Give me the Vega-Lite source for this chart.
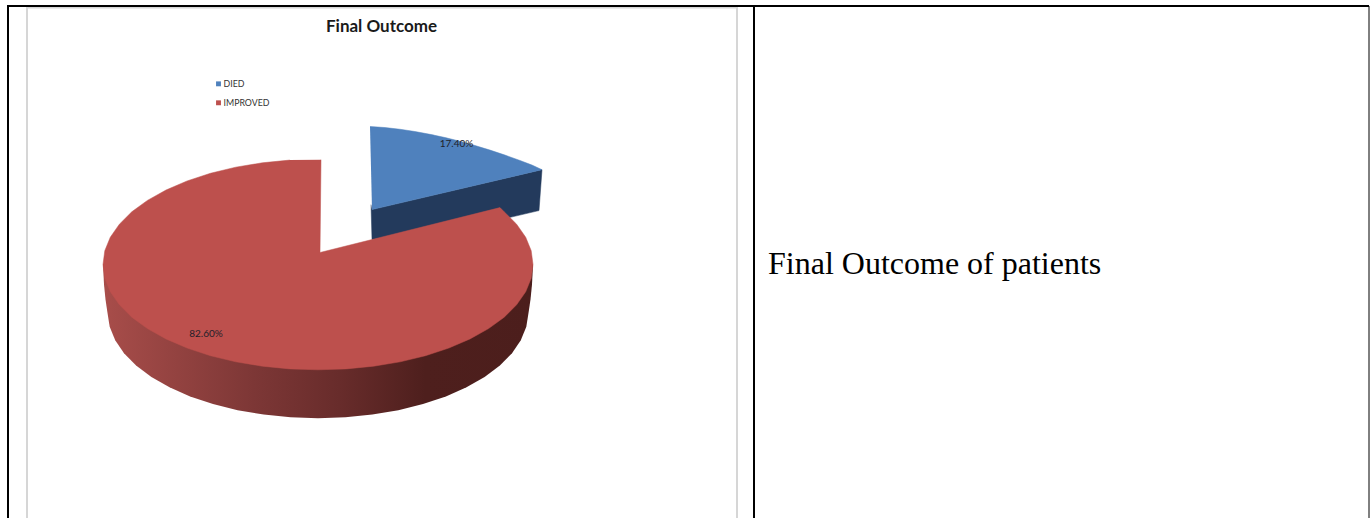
{
  "$schema": "https://vega.github.io/schema/vega-lite/v6.json",
  "autosize": {"type": "fit", "contains": "padding"},
  "width": 1370,
  "height": 519,
  "padding": 0,
  "background": "white",
  "view": {"stroke": null},
  "datasets": {
    "redWall": [
      {"o":1,"x":533,"y":265},{"o":2,"x":532,"y":285},{"o":3,"x":530.5,"y":300},{"o":4,"x":528.5,"y":313.5},{"o":5,"x":526.3,"y":327.3},{"o":6,"x":520.8,"y":340.8},{"o":7,"x":512,"y":353.9},{"o":8,"x":499.9,"y":366.3},{"o":9,"x":484.6,"y":377.7},{"o":10,"x":466.5,"y":388.1},{"o":11,"x":445.9,"y":397.2},{"o":12,"x":423,"y":404.9},{"o":13,"x":398.4,"y":411},{"o":14,"x":372.3,"y":415.4},{"o":15,"x":345.5,"y":418.1},{"o":16,"x":318,"y":419},{"o":17,"x":290.5,"y":418.1},{"o":18,"x":263.7,"y":415.4},{"o":19,"x":237.6,"y":411},{"o":20,"x":213,"y":404.9},{"o":21,"x":190.1,"y":397.2},{"o":22,"x":169.5,"y":388.1},{"o":23,"x":151.4,"y":377.7},{"o":24,"x":136.1,"y":366.3},{"o":25,"x":124,"y":353.9},{"o":26,"x":115.2,"y":340.8},{"o":27,"x":109.7,"y":327.3},{"o":28,"x":107.5,"y":313.5},{"o":29,"x":105.5,"y":300},{"o":30,"x":104,"y":285},{"o":31,"x":103,"y":265}
    ],
    "redTop": [
      {"o":1,"x":321,"y":160},{"o":2,"x":320,"y":253},{"o":3,"x":500,"y":208},{"o":4,"x":504.2,"y":212.2},{"o":5,"x":516.6,"y":224.6},{"o":6,"x":525.7,"y":237.7},{"o":7,"x":531.2,"y":251.2},{"o":8,"x":533,"y":265},{"o":9,"x":531.2,"y":278.8},{"o":10,"x":525.7,"y":292.3},{"o":11,"x":516.6,"y":305.4},{"o":12,"x":504.2,"y":317.8},{"o":13,"x":488.6,"y":329.2},{"o":14,"x":470,"y":339.6},{"o":15,"x":448.9,"y":348.7},{"o":16,"x":425.5,"y":356.4},{"o":17,"x":400.3,"y":362.5},{"o":18,"x":373.6,"y":366.9},{"o":19,"x":346.1,"y":369.6},{"o":20,"x":318,"y":370.5},{"o":21,"x":289.9,"y":369.6},{"o":22,"x":262.4,"y":366.9},{"o":23,"x":235.7,"y":362.5},{"o":24,"x":210.5,"y":356.4},{"o":25,"x":187.1,"y":348.7},{"o":26,"x":166,"y":339.6},{"o":27,"x":147.4,"y":329.2},{"o":28,"x":131.8,"y":317.8},{"o":29,"x":119.4,"y":305.4},{"o":30,"x":110.3,"y":292.3},{"o":31,"x":104.8,"y":278.8},{"o":32,"x":103,"y":265},{"o":33,"x":104.8,"y":251.2},{"o":34,"x":110.3,"y":237.7},{"o":35,"x":119.4,"y":224.6},{"o":36,"x":131.8,"y":212.2},{"o":37,"x":147.4,"y":200.8},{"o":38,"x":166,"y":190.4},{"o":39,"x":187.1,"y":181.3},{"o":40,"x":210.5,"y":173.6},{"o":41,"x":235.7,"y":167.5},{"o":42,"x":262.4,"y":163.1},{"o":43,"x":289.9,"y":160.4}
    ],
    "blueWall": [
      {"o":1,"x":372,"y":210},{"o":2,"x":542,"y":170},{"o":3,"x":539,"y":211},{"o":4,"x":505,"y":219},{"o":5,"x":372,"y":240},{"o":6,"x":371,"y":205}
    ],
    "blueTop": [
      {"o":1,"x":370,"y":126.7},{"o":2,"x":385,"y":127.8},{"o":3,"x":400,"y":129.5},{"o":4,"x":415,"y":131.8},{"o":5,"x":430,"y":134.6},{"o":6,"x":445,"y":137.8},{"o":7,"x":460,"y":141.5},{"o":8,"x":475,"y":145.8},{"o":9,"x":490,"y":150.4},{"o":10,"x":505,"y":155.4},{"o":11,"x":520,"y":160.8},{"o":12,"x":532,"y":165.4},{"o":13,"x":542,"y":170},{"o":14,"x":372,"y":210}
    ],
    "frame": [
      {"kind":"table","x":7,"x2":1369,"y":6,"y2":6},
      {"kind":"table","x":8,"x2":8,"y":5,"y2":519},
      {"kind":"table","x":754,"x2":754,"y":6,"y2":519},
      {"kind":"edge","x":1369,"x2":1369,"y":6,"y2":519},
      {"kind":"chart","x":27,"x2":27,"y":7,"y2":519},
      {"kind":"chart","x":737,"x2":737,"y":7,"y2":519},
      {"kind":"chart","x":27,"x2":737,"y":7.5,"y2":7.5}
    ],
    "outcomes": [
      {"outcome":"DIED","share":0.174,"labelX":456.5,"labelY":144,"keyX":218.5,"keyY":84,"textX":223.5},
      {"outcome":"IMPROVED","share":0.826,"labelX":206,"labelY":335,"keyX":218.5,"keyY":103,"textX":223.5}
    ]
  },
  "encoding": {
    "x": {"field": "x", "type": "quantitative", "axis": null, "scale": {"domain": [0, 1370], "nice": false, "zero": false}},
    "y": {"field": "y", "type": "quantitative", "axis": null, "scale": {"domain": [519, 0], "nice": false, "zero": false}}
  },
  "layer": [
    {
      "data": {"name": "frame"},
      "transform": [{"filter": "datum.kind === 'chart'"}],
      "mark": {"type": "rule", "stroke": "#d6d6d6", "strokeWidth": 2},
      "encoding": {"x2": {"field": "x2"}, "y2": {"field": "y2"}}
    },
    {
      "data": {"name": "frame"},
      "transform": [{"filter": "datum.kind === 'table'"}],
      "mark": {"type": "rule", "stroke": "black", "strokeWidth": 2},
      "encoding": {"x2": {"field": "x2"}, "y2": {"field": "y2"}}
    },
    {
      "data": {"name": "frame"},
      "transform": [{"filter": "datum.kind === 'edge'"}],
      "mark": {"type": "rule", "stroke": "black", "strokeWidth": 1},
      "encoding": {"x2": {"field": "x2"}, "y2": {"field": "y2"}}
    },
    {
      "data": {"name": "blueWall"},
      "mark": {"type": "line", "fill": "#233a5c", "stroke": "#233a5c", "strokeWidth": 0.5},
      "encoding": {"order": {"field": "o"}}
    },
    {
      "data": {"name": "blueTop"},
      "mark": {"type": "line", "fill": "#4f81bd", "stroke": "#4f81bd", "strokeWidth": 0.5},
      "encoding": {"order": {"field": "o"}}
    },
    {
      "data": {"name": "redWall"},
      "mark": {
        "type": "line",
        "strokeWidth": 0,
        "stroke": "#7c3635",
        "fill": {
          "gradient": "linear", "x1": 0, "y1": 0, "x2": 1, "y2": 0,
          "stops": [
            {"offset": 0, "color": "#a84d4a"},
            {"offset": 0.35, "color": "#7d3736"},
            {"offset": 0.55, "color": "#682c2b"},
            {"offset": 0.75, "color": "#4e1f1d"},
            {"offset": 1, "color": "#4c1e1c"}
          ]
        }
      },
      "encoding": {"order": {"field": "o"}}
    },
    {
      "data": {"name": "redTop"},
      "mark": {"type": "line", "fill": "#bd504d", "stroke": "#bd504d", "strokeWidth": 0.5},
      "encoding": {"order": {"field": "o"}}
    },
    {
      "data": {"name": "outcomes"},
      "mark": {"type": "text", "font": "Lato", "fontSize": 10, "fill": "#1f1f2a"},
      "encoding": {
        "x": {"field": "labelX", "type": "quantitative"},
        "y": {"field": "labelY", "type": "quantitative"},
        "text": {"field": "share", "type": "quantitative", "format": ".2%"}
      }
    },
    {
      "data": {"name": "outcomes"},
      "mark": {"type": "square", "size": 24, "opacity": 1},
      "encoding": {
        "x": {"field": "keyX", "type": "quantitative"},
        "y": {"field": "keyY", "type": "quantitative"},
        "color": {
          "field": "outcome",
          "type": "nominal",
          "legend": null,
          "scale": {"domain": ["DIED", "IMPROVED"], "range": ["#4f81bd", "#bd504d"]}
        }
      }
    },
    {
      "data": {"name": "outcomes"},
      "mark": {"type": "text", "align": "left", "font": "Lato", "fontSize": 8.8, "fill": "#333333"},
      "encoding": {
        "x": {"field": "textX", "type": "quantitative"},
        "y": {"field": "keyY", "type": "quantitative"},
        "text": {"field": "outcome"}
      }
    },
    {
      "data": {"values": [{"heading": "Final Outcome", "x": 381.5, "y": 27}]},
      "mark": {"type": "text", "font": "Lato", "fontWeight": "bold", "fontSize": 17, "fill": "#1a1a1a"},
      "encoding": {"text": {"field": "heading"}}
    },
    {
      "data": {"values": [{"caption": "Final Outcome of patients", "x": 768, "y": 265}]},
      "mark": {"type": "text", "align": "left", "font": "Liberation Serif", "fontSize": 32, "fill": "black"},
      "encoding": {"text": {"field": "caption"}}
    }
  ]
}
